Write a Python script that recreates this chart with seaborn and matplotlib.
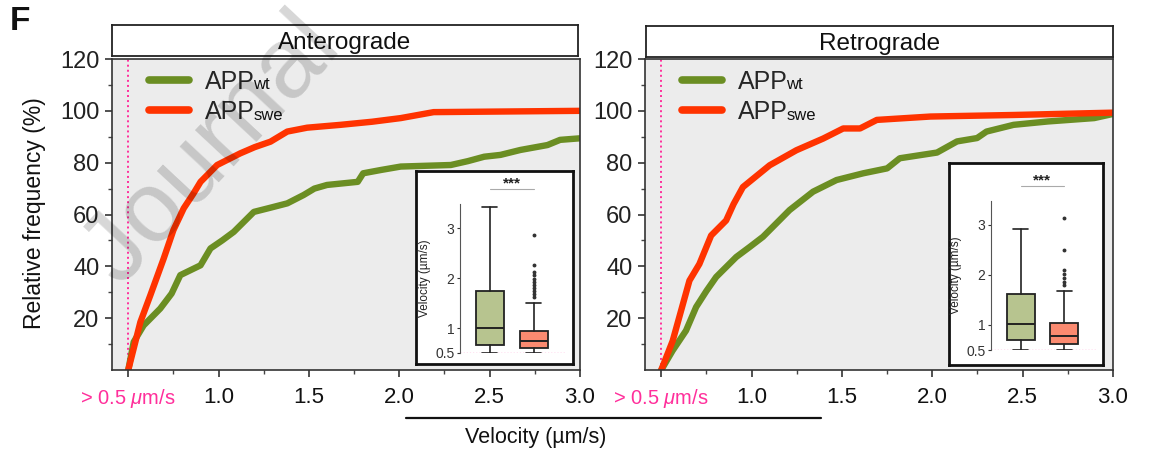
import matplotlib
matplotlib.use("Agg")
import matplotlib.pyplot as plt
import numpy as np
import pandas as pd
import seaborn as sns

# ---- cumulative velocity distributions (x: velocity µm/s, y: relative frequency %) ----
ant_wt_x = [0.50, 0.53, 0.585, 0.677, 0.74, 0.788, 0.90, 0.955, 1.02, 1.084, 1.195, 1.28,
            1.38, 1.47, 1.53, 1.60, 1.77, 1.80, 1.90, 2.008, 2.285, 2.38, 2.47, 2.56, 2.67,
            2.82, 2.89, 3.00]
ant_wt_y = [0.0, 10.8, 17.2, 23.7, 29.5, 36.6, 40.4, 46.9, 50.0, 53.3, 61.0, 62.5,
            64.3, 67.5, 70.0, 71.4, 72.6, 75.9, 77.2, 78.5, 79.1, 80.6, 82.3, 83.0, 84.9,
            86.8, 88.8, 89.4]
ant_swe_x = [0.50, 0.567, 0.622, 0.696, 0.75, 0.807, 0.86, 0.90, 0.992, 1.12, 1.20, 1.287,
             1.38, 1.49, 1.675, 1.85, 2.008, 2.19, 3.00]
ant_swe_y = [0.0, 18.5, 28.8, 43.0, 54.0, 62.4, 68.0, 72.6, 79.1, 83.6, 86.0, 88.1,
             92.0, 93.5, 94.6, 95.8, 97.2, 99.5, 100.0]
ret_wt_x = [0.50, 0.563, 0.637, 0.693, 0.75, 0.804, 0.915, 0.99, 1.063, 1.21, 1.34, 1.47,
            1.618, 1.75, 1.82, 2.026, 2.137, 2.248, 2.30, 2.45, 2.64, 2.896, 3.00]
ret_wt_y = [0.0, 7.5, 15.2, 24.3, 30.5, 35.9, 43.6, 47.5, 51.4, 61.7, 68.8, 73.3,
            75.9, 77.8, 81.7, 83.9, 88.2, 89.5, 92.0, 94.6, 95.9, 97.2, 98.8]
ret_swe_x = [0.50, 0.563, 0.656, 0.711, 0.776, 0.859, 0.90, 0.952, 1.10, 1.248, 1.396, 1.507,
             1.60, 1.693, 1.99, 2.45, 3.00]
ret_swe_y = [0.0, 11.2, 34.5, 40.9, 51.9, 57.7, 64.0, 70.6, 79.0, 84.8, 89.3, 93.2,
             93.2, 96.5, 97.8, 98.4, 99.3]

# ---- box-plot summaries (µm/s): whisker low, Q1, median, Q3, whisker high, outliers ----
ant_wt_box = dict(whislo=0.50, q1=0.67, med=1.01, q3=1.75, whishi=3.43, fliers=[])
ant_swe_box = dict(whislo=0.50, q1=0.61, med=0.75, q3=0.94, whishi=1.51,
                   fliers=[1.63, 1.68, 1.74, 1.80, 1.86, 1.92, 1.99, 2.06, 2.13, 2.27, 2.87])
ret_wt_box = dict(whislo=0.50, q1=0.70, med=1.02, q3=1.62, whishi=2.93, fliers=[])
ret_swe_box = dict(whislo=0.50, q1=0.63, med=0.78, q3=1.04, whishi=1.69,
                   fliers=[1.80, 1.86, 1.95, 2.03, 2.10, 2.50, 3.15])

panel_titles = ["Anterograde", "Retrograde"]
x_ticks = [0.5, 1.0, 1.5, 2.0, 2.5, 3.0]
x_ticklabels = [r"> 0.5 $\mu$m/s", "1.0", "1.5", "2.0", "2.5", "3.0"]
y_ticks = [20, 40, 60, 80, 100, 120]
groups = ["APPwt", "APPswe"]
legend_main = ["APP", "APP"]
legend_sub = ["wt", "swe"]

GREEN = "#6b8e23"
RED = "#ff3300"
PINK = "#ff2f9b"
BOX_GREEN = "#b7c48f"
BOX_RED = "#fb8a70"

sns.set_theme(style="ticks")
plt.rcParams["font.family"] = ["Liberation Sans", "DejaVu Sans"]
plt.rcParams["mathtext.fontset"] = "custom"
plt.rcParams["mathtext.rm"] = "Liberation Sans"
plt.rcParams["mathtext.it"] = "Liberation Sans:italic"

W, H = 1149, 453
fig = plt.figure(figsize=(W / 100, H / 100), dpi=100)


def px_rect(x0, y0, x1, y1):
    return [x0 / W, 1 - y1 / H, (x1 - x0) / W, (y1 - y0) / H]


curves = [
    pd.DataFrame({"v": ant_wt_x + ant_swe_x, "f": ant_wt_y + ant_swe_y,
                  "g": [groups[0]] * len(ant_wt_x) + [groups[1]] * len(ant_swe_x)}),
    pd.DataFrame({"v": ret_wt_x + ret_swe_x, "f": ret_wt_y + ret_swe_y,
                  "g": [groups[0]] * len(ret_wt_x) + [groups[1]] * len(ret_swe_x)}),
]
boxes = [(ant_wt_box, ant_swe_box), (ret_wt_box, ret_swe_box)]

main_px = [(112, 59, 580, 370), (645, 59, 1113, 370)]
title_px = [(112, 25, 578, 56), (646, 26, 1113, 57)]
frame_px = [(416, 171, 573, 364), (949, 163, 1103, 365)]
inner_px = [(460, 203, 566, 353), (991, 200, 1096, 350)]

legends = []
for i in range(2):
    ax = fig.add_axes(px_rect(*main_px[i]))
    ax.set_facecolor("#ececec")
    sns.lineplot(data=curves[i], x="v", y="f", hue="g", palette=[GREEN, RED],
                 estimator=None, sort=False, linewidth=4.6, ax=ax, legend=False,
                 solid_capstyle="round")
    ax.axvline(0.5, color=PINK, linestyle=(0, (1, 1.6)), linewidth=1.4, zorder=1)
    ax.set_xlim(0.41, 3.0)
    ax.set_ylim(0, 120)
    ax.set_xticks(x_ticks)
    ax.set_xticklabels(x_ticklabels)
    ax.set_xticks(np.arange(0.75, 3.0, 0.5), minor=True)
    ax.set_yticks(y_ticks)
    ax.set_yticks(np.arange(10, 120, 20), minor=True)
    ax.tick_params(axis="both", which="major", length=5, width=1.1,
                   colors="#222222", pad=4)
    ax.tick_params(axis="y", which="major", labelsize=17)
    ax.tick_params(axis="x", which="major", labelsize=16, pad=7, labelcolor="#111111")
    ax.tick_params(axis="both", which="minor", length=3, width=1.0, colors="#444444")
    first = ax.get_xticklabels()[0]
    first.set_color(PINK)
    first.set_fontsize(14.5)
    ax.set_xlabel("")
    ax.set_ylabel("")
    for s in ax.spines.values():
        s.set_color("#333333")
        s.set_linewidth(1.2)

    handles = [plt.Line2D([], [], color=c, linewidth=5.5) for c in (GREEN, RED)]
    leg = ax.legend(handles, legend_main, loc="upper left",
                    bbox_to_anchor=(0.048, 1.014), frameon=False, fontsize=18,
                    handlelength=1.6, handletextpad=0.6, labelspacing=0.26,
                    borderaxespad=0.2)
    legends.append(leg)

    # panel header
    tax = fig.add_axes(px_rect(*title_px[i]))
    tax.set_facecolor("white")
    tax.set_xticks([])
    tax.set_yticks([])
    for s in tax.spines.values():
        s.set_color("#222222")
        s.set_linewidth(1.3)
    tax.text(0.5, 0.24, panel_titles[i], ha="center", va="baseline", fontsize=17.5,
             transform=tax.transAxes, color="#111111")

    # inset frame
    fax = fig.add_axes(px_rect(*frame_px[i]))
    fax.set_facecolor("white")
    fax.set_xticks([])
    fax.set_yticks([])
    for s in fax.spines.values():
        s.set_color("#111111")
        s.set_linewidth(2.0)

    # inset box plot
    bax = fig.add_axes(px_rect(*inner_px[i]))
    bax.patch.set_alpha(0)
    wt, swe = boxes[i]
    bp = bax.bxp([wt, swe], positions=[1, 2], widths=0.64, patch_artist=True,
                 showfliers=True,
                 boxprops=dict(edgecolor="#222222", linewidth=1.3),
                 medianprops=dict(color="#222222", linewidth=1.4),
                 whiskerprops=dict(color="#222222", linewidth=1.2),
                 capprops=dict(color="#222222", linewidth=1.2),
                 flierprops=dict(marker="o", markersize=1.8, markerfacecolor="#333333",
                                 markeredgecolor="#333333"))
    for patch, col in zip(bp["boxes"], (BOX_GREEN, BOX_RED)):
        patch.set_facecolor(col)
    for cap in bp["caps"]:
        mid = np.mean(cap.get_xdata())
        cap.set_xdata([mid - 0.17, mid + 0.17])
    bax.axhline(0.5, color=PINK, linestyle=(0, (1, 1.5)), linewidth=0.9, zorder=0)
    bax.set_xlim(0.32, 2.73)
    bax.set_ylim(0.5, 3.5)
    bax.set_yticks([0.5, 1, 2, 3])
    bax.set_yticklabels(["0.5", "1", "2", "3"])
    bax.set_xticks([])
    bax.tick_params(axis="y", labelsize=10, length=2.5, width=0.8, pad=1.5,
                    colors="#333333")
    bax.set_ylabel("Velocity (µm/s)", fontsize=8.5, labelpad=3, color="#222222")
    for side in ("top", "right", "bottom"):
        bax.spines[side].set_visible(False)
    bax.spines["left"].set_color("#555555")
    bax.spines["left"].set_linewidth(0.8)
    bax.spines["left"].set_bounds(0.5, 3.48)
    bax.plot([1.0, 2.0], [3.78, 3.78], color="#aaaaaa", linewidth=0.8, clip_on=False)
    bax.text(1.5, 3.76, "***", ha="center", va="bottom", fontsize=11,
             fontweight="bold", color="#222222", clip_on=False)

# genotype subscripts placed right after the legend labels
fig.canvas.draw()
renderer = fig.canvas.get_renderer()
for leg in legends:
    for t, sub in zip(leg.get_texts(), legend_sub):
        bb = t.get_window_extent(renderer)
        fig.text((bb.x1 - 1) / W, bb.y0 / H + 0.003, sub, ha="left", va="bottom",
                 fontsize=12, color="#111111")

# shared axis text
fig.text(35 / W, 1 - 213 / H, "Relative frequency (%)", rotation=90, ha="center",
         va="center", fontsize=16.5, color="#111111")
fig.text(536 / W, 1 - 437 / H, "Velocity (µm/s)", ha="center", va="center",
         fontsize=15.5, color="#111111")
fig.add_artist(plt.Line2D([406 / W, 821 / W], [1 - 418 / H, 1 - 418 / H],
                          color="#111111", linewidth=1.6))
fig.text(10 / W, 1 - 22 / H, "F", ha="left", va="center", fontsize=24,
         fontweight="bold", color="#111111")

# journal watermark
fig.text(212 / W, 1 - 150 / H, "Journal", rotation=47, ha="center", va="center",
         fontsize=72, color="black", alpha=0.16)

fig.savefig("out.png", dpi=100)
